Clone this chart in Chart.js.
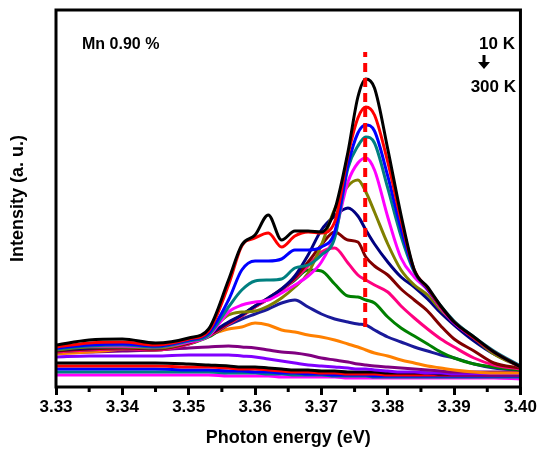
<!DOCTYPE html>
<html>
<head>
<meta charset="utf-8">
<script src="https://cdn.jsdelivr.net/npm/chart.js@4.4.1/dist/chart.umd.min.js"></script>
<style>
  html, body { margin: 0; padding: 0; background: #fff; }
  #wrap { width: 539px; height: 452px; position: relative; }
</style>
</head>
<body>
<div id="wrap"><canvas id="grafico"></canvas></div>
<script>
// Photon energy grid (eV)
const energia = [3.330, 3.335, 3.340, 3.345, 3.350, 3.353, 3.356, 3.358, 3.360, 3.362, 3.364, 3.366, 3.368, 3.370,
                 3.372, 3.374, 3.3755, 3.3767, 3.378, 3.380, 3.382, 3.384, 3.386, 3.388, 3.390, 3.393, 3.396, 3.400];

// PL intensities (a. u.), 10 K -> 300 K
const i10K  = [42, 47, 48, 44, 49, 58, 107, 142, 152, 172, 147, 156, 156, 155, 177, 235, 290, 308, 299, 238, 172, 117, 100, 81, 65, 50, 35, 20];
const i20K  = [40, 44, 45, 42, 48, 56, 102, 141, 149, 154, 140, 151, 155, 154, 165, 232, 269, 280, 272, 225, 167, 117, 99, 80, 65, 49, 35, 20];
const i30K  = [39, 42, 43, 41, 47, 54, 87, 117, 126, 126, 128, 137, 137, 140, 155, 222, 254, 262, 256, 211, 158, 116, 98, 80, 65, 49, 35, 20];
const i40K  = [38, 41, 42, 40, 46, 52, 80, 97, 106, 107, 108, 119, 122, 132, 149, 219, 241, 250, 244, 199, 151, 115, 98, 81, 66, 50, 36, 21];
const i50K  = [39, 41, 41, 40, 45, 51, 75, 82, 85, 87, 94, 102, 111, 125, 153, 205, 224, 229, 217, 170, 129, 110, 97, 79, 64, 49, 35, 20];
const i60K  = [37, 40, 40, 39, 45, 55, 72, 75, 76, 81, 89, 100, 114, 142, 178, 201, 207, 195, 175, 143, 117, 102, 92, 77, 65, 49, 33, 20];
const i70K  = [37, 39, 40, 39, 45, 53, 65, 72, 81, 89, 98, 111, 132, 157, 171, 179, 171, 157, 143, 125, 110, 100, 88, 74, 62, 46, 33, 21];
const i80K  = [36, 38, 39, 38, 44, 52, 64, 72, 81, 89, 98, 109, 125, 142, 155, 147, 145, 130, 121, 112, 98, 87, 76, 61, 48, 36, 24, 19];
const i100K = [35, 37, 38, 37, 43, 51, 63, 71, 80, 88, 97, 108, 121, 135, 139, 124, 112, 107, 102, 95, 81, 69, 58, 48, 40, 29, 22, 18];
const i120K = [35, 37, 38, 37, 43, 50, 63, 71, 80, 88, 97, 107, 117, 116, 103, 91, 90, 87, 84, 70, 59, 51, 43, 35, 29, 23, 20, 17];
const i140K = [36, 38, 39, 38, 44, 51, 62, 68, 73, 78, 84, 87, 80, 73, 68, 65, 63, 62, 57, 50, 45, 40, 36, 32, 29, 23, 19, 17];
const i160K = [33, 35, 38, 42, 47, 52, 58, 60, 64, 62, 57, 55, 52, 50, 47, 43, 40, 37, 34, 31, 27, 24, 21, 19, 17, 15, 14, 14];
const i180K = [34, 35, 36, 37, 39, 40, 41, 40, 39, 37, 35, 34, 32, 29, 27, 25, 23, 22, 21, 20, 19, 18, 17, 16, 15, 15, 15, 15];
const i200K = [30, 31, 31, 31, 32, 32, 32, 31, 30, 28, 26, 24, 22, 21, 20, 19, 18, 18, 17, 16, 15, 15, 14, 14, 13, 13, 13, 13];
const i220K = [24, 24, 24, 24, 23, 22, 21, 20, 20, 19, 18, 17, 17, 16, 16, 15, 15, 15, 15, 14, 14, 14, 14, 13, 13, 13, 13, 13];
const i240K = [21, 21, 21, 21, 20, 20, 19, 18, 18, 17, 16, 15, 15, 14, 14, 13, 13, 13, 13, 12, 12, 12, 12, 12, 12, 12, 12, 12];
const i260K = [18, 18, 18, 18, 17, 17, 16, 16, 15, 15, 14, 14, 13, 13, 12, 12, 12, 12, 11, 11, 11, 11, 11, 11, 11, 11, 11, 11];
const i280K = [15, 15, 15, 15, 15, 15, 14, 14, 14, 13, 13, 12, 12, 12, 11, 11, 11, 11, 10, 10, 10, 10, 10, 10, 10, 10, 10, 10];
const i300K = [12, 12, 12, 12, 12, 12, 11, 11, 11, 11, 10, 10, 10, 10, 10, 9, 9, 9, 9, 9, 9, 9, 9, 9, 9, 9, 9, 8];

const temperaturas = ['10 K', '20 K', '30 K', '40 K', '50 K', '60 K', '70 K', '80 K', '100 K', '120 K',
                      '140 K', '160 K', '180 K', '200 K', '220 K', '240 K', '260 K', '280 K', '300 K'];
const series = [i10K, i20K, i30K, i40K, i50K, i60K, i70K, i80K, i100K, i120K,
                i140K, i160K, i180K, i200K, i220K, i240K, i260K, i280K, i300K];
const cores = ['#000000', '#ff0000', '#0000ff', '#008080', '#ff00ff', '#808000', '#000080', '#800000', '#ff0080', '#008000',
               '#1a1a9a', '#ff8000', '#800080', '#8000ff', '#000000', '#ff0000', '#0000ff', '#008080', '#ff00ff'];

// dashed marker at the main peak position
const picoE = 3.3766;
const picoY = [60, 335];

const ticksMenores = [3.335, 3.345, 3.355, 3.365, 3.375, 3.385, 3.395];

const FONTE = '"Liberation Sans", Arial, sans-serif';

const datasets = series.map((vals, k) => ({
    label: temperaturas[k],
    data: energia.map((e, i) => ({ x: e, y: vals[i] })),
    borderColor: cores[k],
    borderWidth: 3,
    pointRadius: 0,
    fill: false,
    cubicInterpolationMode: 'monotone',
    tension: 0.3
}));

datasets.push({
    label: 'pico',
    data: picoY.map(v => ({ x: picoE, y: v })),
    borderColor: '#ff0000',
    borderWidth: 4,
    borderDash: [9, 6],
    pointRadius: 0,
    order: -1
});

// moldura, ticks menores e textos
const extras = {
    id: 'extras',
    afterDraw(chart) {
        const { ctx, chartArea: a, scales: { x } } = chart;
        ctx.save();
        ctx.strokeStyle = '#000';
        ctx.lineWidth = 3;
        ctx.strokeRect(a.left, a.top, a.right - a.left, a.bottom - a.top);

        ctx.beginPath();
        ticksMenores.forEach(t => {
            const px = x.getPixelForValue(t);
            ctx.moveTo(px, a.bottom);
            ctx.lineTo(px, a.bottom + 5);
        });
        ctx.stroke();

        ctx.fillStyle = '#000';
        ctx.font = 'bold 16px ' + FONTE;
        ctx.textBaseline = 'middle';
        ctx.textAlign = 'left';
        ctx.fillText('Mn 0.90 %', 82, 45);

        ctx.font = 'bold 17px ' + FONTE;
        ctx.textAlign = 'right';
        ctx.fillText('10 K', 515, 44);
        ctx.fillText('300 K', 516, 87);

        // seta
        ctx.lineWidth = 3;
        ctx.beginPath();
        ctx.moveTo(484, 55);
        ctx.lineTo(484, 64);
        ctx.stroke();
        ctx.beginPath();
        ctx.moveTo(478, 62);
        ctx.lineTo(490, 62);
        ctx.lineTo(484, 69);
        ctx.closePath();
        ctx.fill();
        ctx.restore();
    }
};

const ctx = document.getElementById('grafico').getContext('2d');
new Chart(ctx, {
    type: 'line',
    data: { datasets: datasets },
    plugins: [extras],
    options: {
        responsive: true,
        maintainAspectRatio: false,
        animation: false,
        layout: { padding: { top: 10, right: 14, bottom: 0, left: 0 } },
        plugins: {
            legend: { display: false },
            tooltip: { enabled: false }
        },
        scales: {
            x: {
                type: 'linear',
                min: 3.33,
                max: 3.40,
                afterFit: s => { s.height = 65; },
                ticks: {
                    stepSize: 0.01,
                    padding: 2,
                    color: '#000',
                    font: { family: FONTE, size: 17, weight: 'bold' },
                    callback: v => Number(v).toFixed(2),
                    maxRotation: 0
                },
                grid: {
                    drawOnChartArea: false,
                    tickLength: 8,
                    tickWidth: 3,
                    tickColor: '#000'
                },
                border: { display: false },
                title: {
                    display: true,
                    text: 'Photon energy (eV)',
                    color: '#000',
                    font: { family: FONTE, size: 18, weight: 'bold' },
                    padding: { top: 0, bottom: 3 }
                }
            },
            y: {
                min: 0,
                max: 377,
                afterFit: s => { s.width = 56; },
                ticks: { display: false },
                grid: { display: false },
                border: { display: false },
                title: {
                    display: true,
                    text: 'Intensity (a. u.)',
                    color: '#000',
                    font: { family: FONTE, size: 18, weight: 'bold' },
                    padding: { top: 7, bottom: 0 }
                }
            }
        }
    }
});
</script>
</body>
</html>
